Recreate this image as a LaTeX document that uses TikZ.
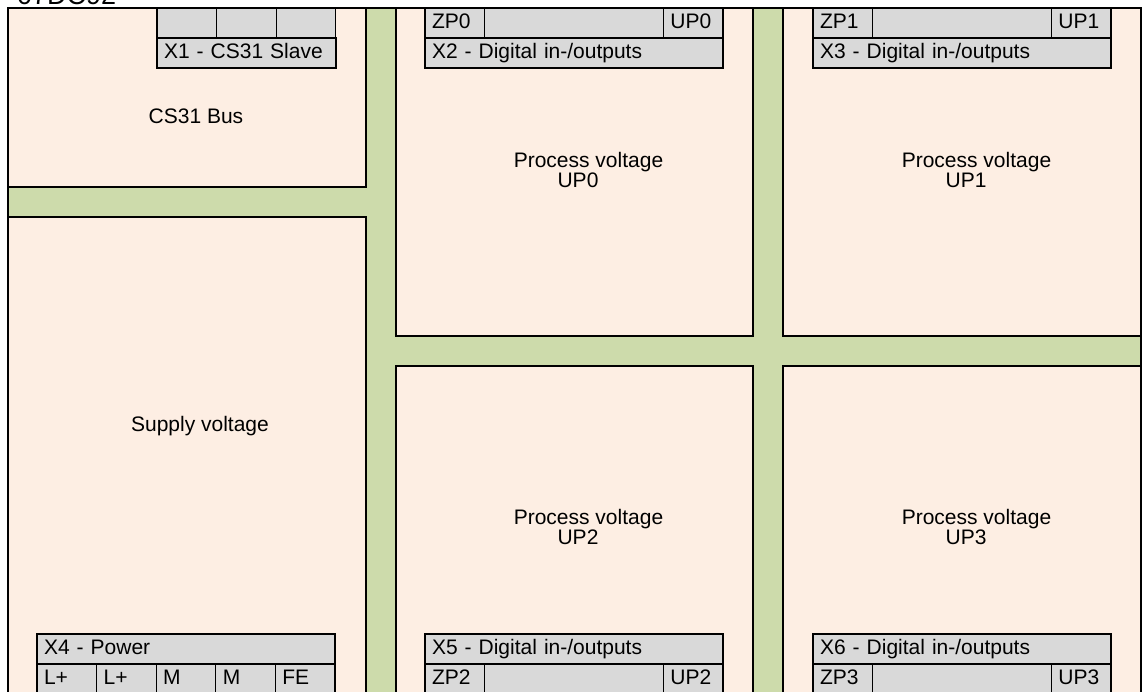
\documentclass[tikz,border=0pt]{standalone}
\usepackage{fontspec}
\setmainfont{Liberation Sans}
\usepackage{tikz}
\usetikzlibrary{positioning}
\definecolor{railgreen}{RGB}{205,219,171}
\definecolor{zonepeach}{RGB}{253,238,227}
\definecolor{headgray}{RGB}{217,217,217}

\begin{document}
\begin{tikzpicture}[x=1pt, y=-1pt,
  zone/.style={draw=black, fill=zonepeach, line width=1.3pt, anchor=north west,
               inner sep=0pt, outer sep=0pt},
  cell/.style={draw=black, fill=headgray, line width=1.3pt, anchor=north west,
               minimum height=30pt, inner xsep=7pt, inner ysep=0pt, outer sep=0pt,
               text height=14.5pt, text depth=4.5pt, font=\fontsize{21}{24}\selectfont},
  pin/.style={cell, text width=45.6pt},
  gap/.style={cell, minimum width=178.8pt},
  bar/.style={cell, text width=284pt},
  lbl/.style={align=center, inner sep=0pt, font=\fontsize{21}{20}\selectfont},
]
\useasboundingbox (0,0) rectangle (1147,691);
\node[anchor=base west, inner sep=0pt, font=\fontsize{27}{30}\selectfont] (title) at (17,4) {07DC92};
\draw[fill=railgreen, line width=1.3pt] (8,8) rectangle (1141,720);

\node[zone, minimum width=358pt, minimum height=179pt] (bus) at (8,8) {};
\node[zone, minimum width=358pt, minimum height=503pt] (supply) at (8,217) {};
\node[zone, minimum width=357pt, minimum height=328pt] (up0) at (396,8) {};
\node[zone, minimum width=358pt, minimum height=328pt] (up1) at (783,8) {};
\node[zone, minimum width=357pt, minimum height=354pt] (up2) at (396,366) {};
\node[zone, minimum width=358pt, minimum height=354pt] (up3) at (783,366) {};

\node[lbl] (buslbl) at (196,116) {CS31 Bus};
\node[lbl] (supplylbl) at (200,426) {Supply voltage};
\node[lbl] (up0lbl) at (578,170) {\hspace*{21pt}Process voltage\\UP0};
\node[lbl] (up1lbl) at (966,170) {\hspace*{21pt}Process voltage\\UP1};
\node[lbl] (up2lbl) at (578,527) {\hspace*{21pt}Process voltage\\UP2};
\node[lbl] (up3lbl) at (966,527) {\hspace*{21pt}Process voltage\\UP3};

\node[pin] (x1a) at (157,8) {};
\node[pin, right=0pt of x1a] (x1b) {};
\node[pin, right=0pt of x1b] (x1c) {};
\node[cell, text width=165pt, below right=0pt of x1a.south west] (x1) {X1 - CS31 Slave};

\node[pin] (zp0) at (425,8) {ZP0};
\node[gap, right=0pt of zp0] (x2mid) {};
\node[pin, right=0pt of x2mid] (up0pin) {UP0};
\node[bar, below right=0pt of zp0.south west] (x2) {X2 - Digital in-/outputs};

\node[pin] (zp1) at (813,8) {ZP1};
\node[gap, right=0pt of zp1] (x3mid) {};
\node[pin, right=0pt of x3mid] (up1pin) {UP1};
\node[bar, below right=0pt of zp1.south west] (x3) {X3 - Digital in-/outputs};

\node[bar] (x4) at (37,634) {X4 - Power};
\node[pin, below right=0pt of x4.south west] (lp1) {L+};
\node[pin, right=0pt of lp1] (lp2) {L+};
\node[pin, right=0pt of lp2] (m1) {M};
\node[pin, right=0pt of m1] (m2) {M};
\node[pin, right=0pt of m2] (fe) {FE};

\node[bar] (x5) at (425,634) {X5 - Digital in-/outputs};
\node[pin, below right=0pt of x5.south west] (zp2) {ZP2};
\node[gap, right=0pt of zp2] (x5mid) {};
\node[pin, right=0pt of x5mid] (up2pin) {UP2};

\node[bar] (x6) at (813,634) {X6 - Digital in-/outputs};
\node[pin, below right=0pt of x6.south west] (zp3) {ZP3};
\node[gap, right=0pt of zp3] (x6mid) {};
\node[pin, right=0pt of x6mid] (up3pin) {UP3};
\end{tikzpicture}
\end{document}
